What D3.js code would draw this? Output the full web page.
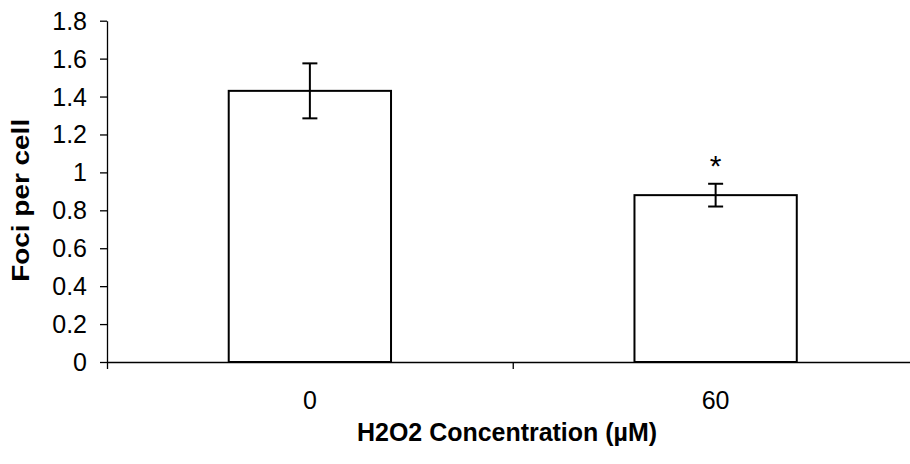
<!DOCTYPE html>
<html>
<head>
<meta charset="utf-8">
<script src="https://cdn.jsdelivr.net/npm/d3@7"></script>
<style>
  html, body { margin: 0; padding: 0; background: #fff; }
  svg { display: block; }
</style>
</head>
<body>
<div id="chart"></div>
<script>
// data
const categories = ["0", "60"];
const means = [1.43, 0.88];
const errors = [0.145, 0.06];
const significant = [false, true];
const yTicks = [0, 0.2, 0.4, 0.6, 0.8, 1, 1.2, 1.4, 1.6, 1.8];

const W = 910, H = 464;
const plotLeft = 107, plotRight = 918.5, plotTop = 20.7, plotBottom = 362;

const svg = d3.select("#chart")
    .append("svg")
    .attr("width", W)
    .attr("height", H)
    .style("font-family", "'Liberation Sans', Arial, sans-serif");

const y = d3.scaleLinear().domain([0, 1.8]).range([plotBottom, plotTop]);
const x = d3.scaleBand()
    .domain(categories)
    .range([plotLeft, plotRight])
    .paddingInner(0.6)
    .paddingOuter(0.3);
// category boundaries for the x tick marks
const xb = d3.scaleLinear().domain([0, categories.length]).range([plotLeft, plotRight]);

// bars
svg.selectAll("rect.bar")
    .data(categories)
    .enter()
    .append("rect")
    .attr("class", "bar")
    .attr("x", d => x(d))
    .attr("y", (d, i) => y(means[i]))
    .attr("width", x.bandwidth())
    .attr("height", (d, i) => y(0) - y(means[i]))
    .attr("fill", "#fff")
    .attr("stroke", "#000")
    .attr("stroke-width", 2);

// y axis
const yAxis = svg.append("g")
    .attr("transform", `translate(${plotLeft},0)`)
    .call(d3.axisLeft(y).tickValues(yTicks).tickSize(7).tickSizeOuter(0).tickFormat(d3.format("")));
yAxis.attr("font-family", null).attr("font-size", null);
yAxis.select(".domain").attr("stroke", "#000").attr("stroke-width", 1.3);
yAxis.selectAll(".tick line").attr("stroke", "#000").attr("stroke-width", 1.3);
yAxis.selectAll(".tick text")
    .attr("x", -20)
    .attr("dy", "0.34em")
    .attr("fill", "#000")
    .style("font-size", "25px");

// x axis
const xAxis = svg.append("g")
    .attr("transform", `translate(0,${plotBottom})`)
    .call(d3.axisBottom(xb).ticks(categories.length).tickSize(7).tickSizeOuter(0).tickFormat(""));
xAxis.select(".domain").attr("stroke", "#000").attr("stroke-width", 1.3);
xAxis.selectAll(".tick line").attr("stroke", "#000").attr("stroke-width", 1.3);

svg.selectAll("text.xlabel")
    .data(categories)
    .enter()
    .append("text")
    .attr("class", "xlabel")
    .attr("x", d => x(d) + x.bandwidth() / 2)
    .attr("y", 409)
    .attr("text-anchor", "middle")
    .style("font-size", "25px")
    .text(d => d);

// error bars
const eb = svg.append("g").attr("stroke", "#000").attr("stroke-width", 2);
categories.forEach((c, i) => {
    const cx = x(c) + x.bandwidth() / 2;
    const y1 = y(means[i] + errors[i]), y2 = y(means[i] - errors[i]);
    eb.append("line").attr("x1", cx).attr("x2", cx).attr("y1", y1).attr("y2", y2);
    eb.append("line").attr("x1", cx - 7.5).attr("x2", cx + 7.5).attr("y1", y1).attr("y2", y1);
    eb.append("line").attr("x1", cx - 7.5).attr("x2", cx + 7.5).attr("y1", y2).attr("y2", y2);
    if (significant[i]) {
        svg.append("text")
            .attr("x", cx)
            .attr("y", y1 - 8)
            .attr("text-anchor", "middle")
            .style("font-size", "30px")
            .text("*");
    }
});

// axis titles
svg.append("text")
    .attr("x", 507)
    .attr("y", 441)
    .attr("text-anchor", "middle")
    .attr("textLength", 300)
    .attr("lengthAdjust", "spacingAndGlyphs")
    .style("font-size", "25px")
    .style("font-weight", "bold")
    .text("H2O2 Concentration (µM)");

svg.append("text")
    .attr("transform", `translate(29,${(plotTop + plotBottom) / 2 + 9}) rotate(-90)`)
    .attr("text-anchor", "middle")
    .attr("textLength", 163)
    .attr("lengthAdjust", "spacingAndGlyphs")
    .style("font-size", "24px")
    .style("font-weight", "bold")
    .text("Foci per cell");
</script>
</body>
</html>
